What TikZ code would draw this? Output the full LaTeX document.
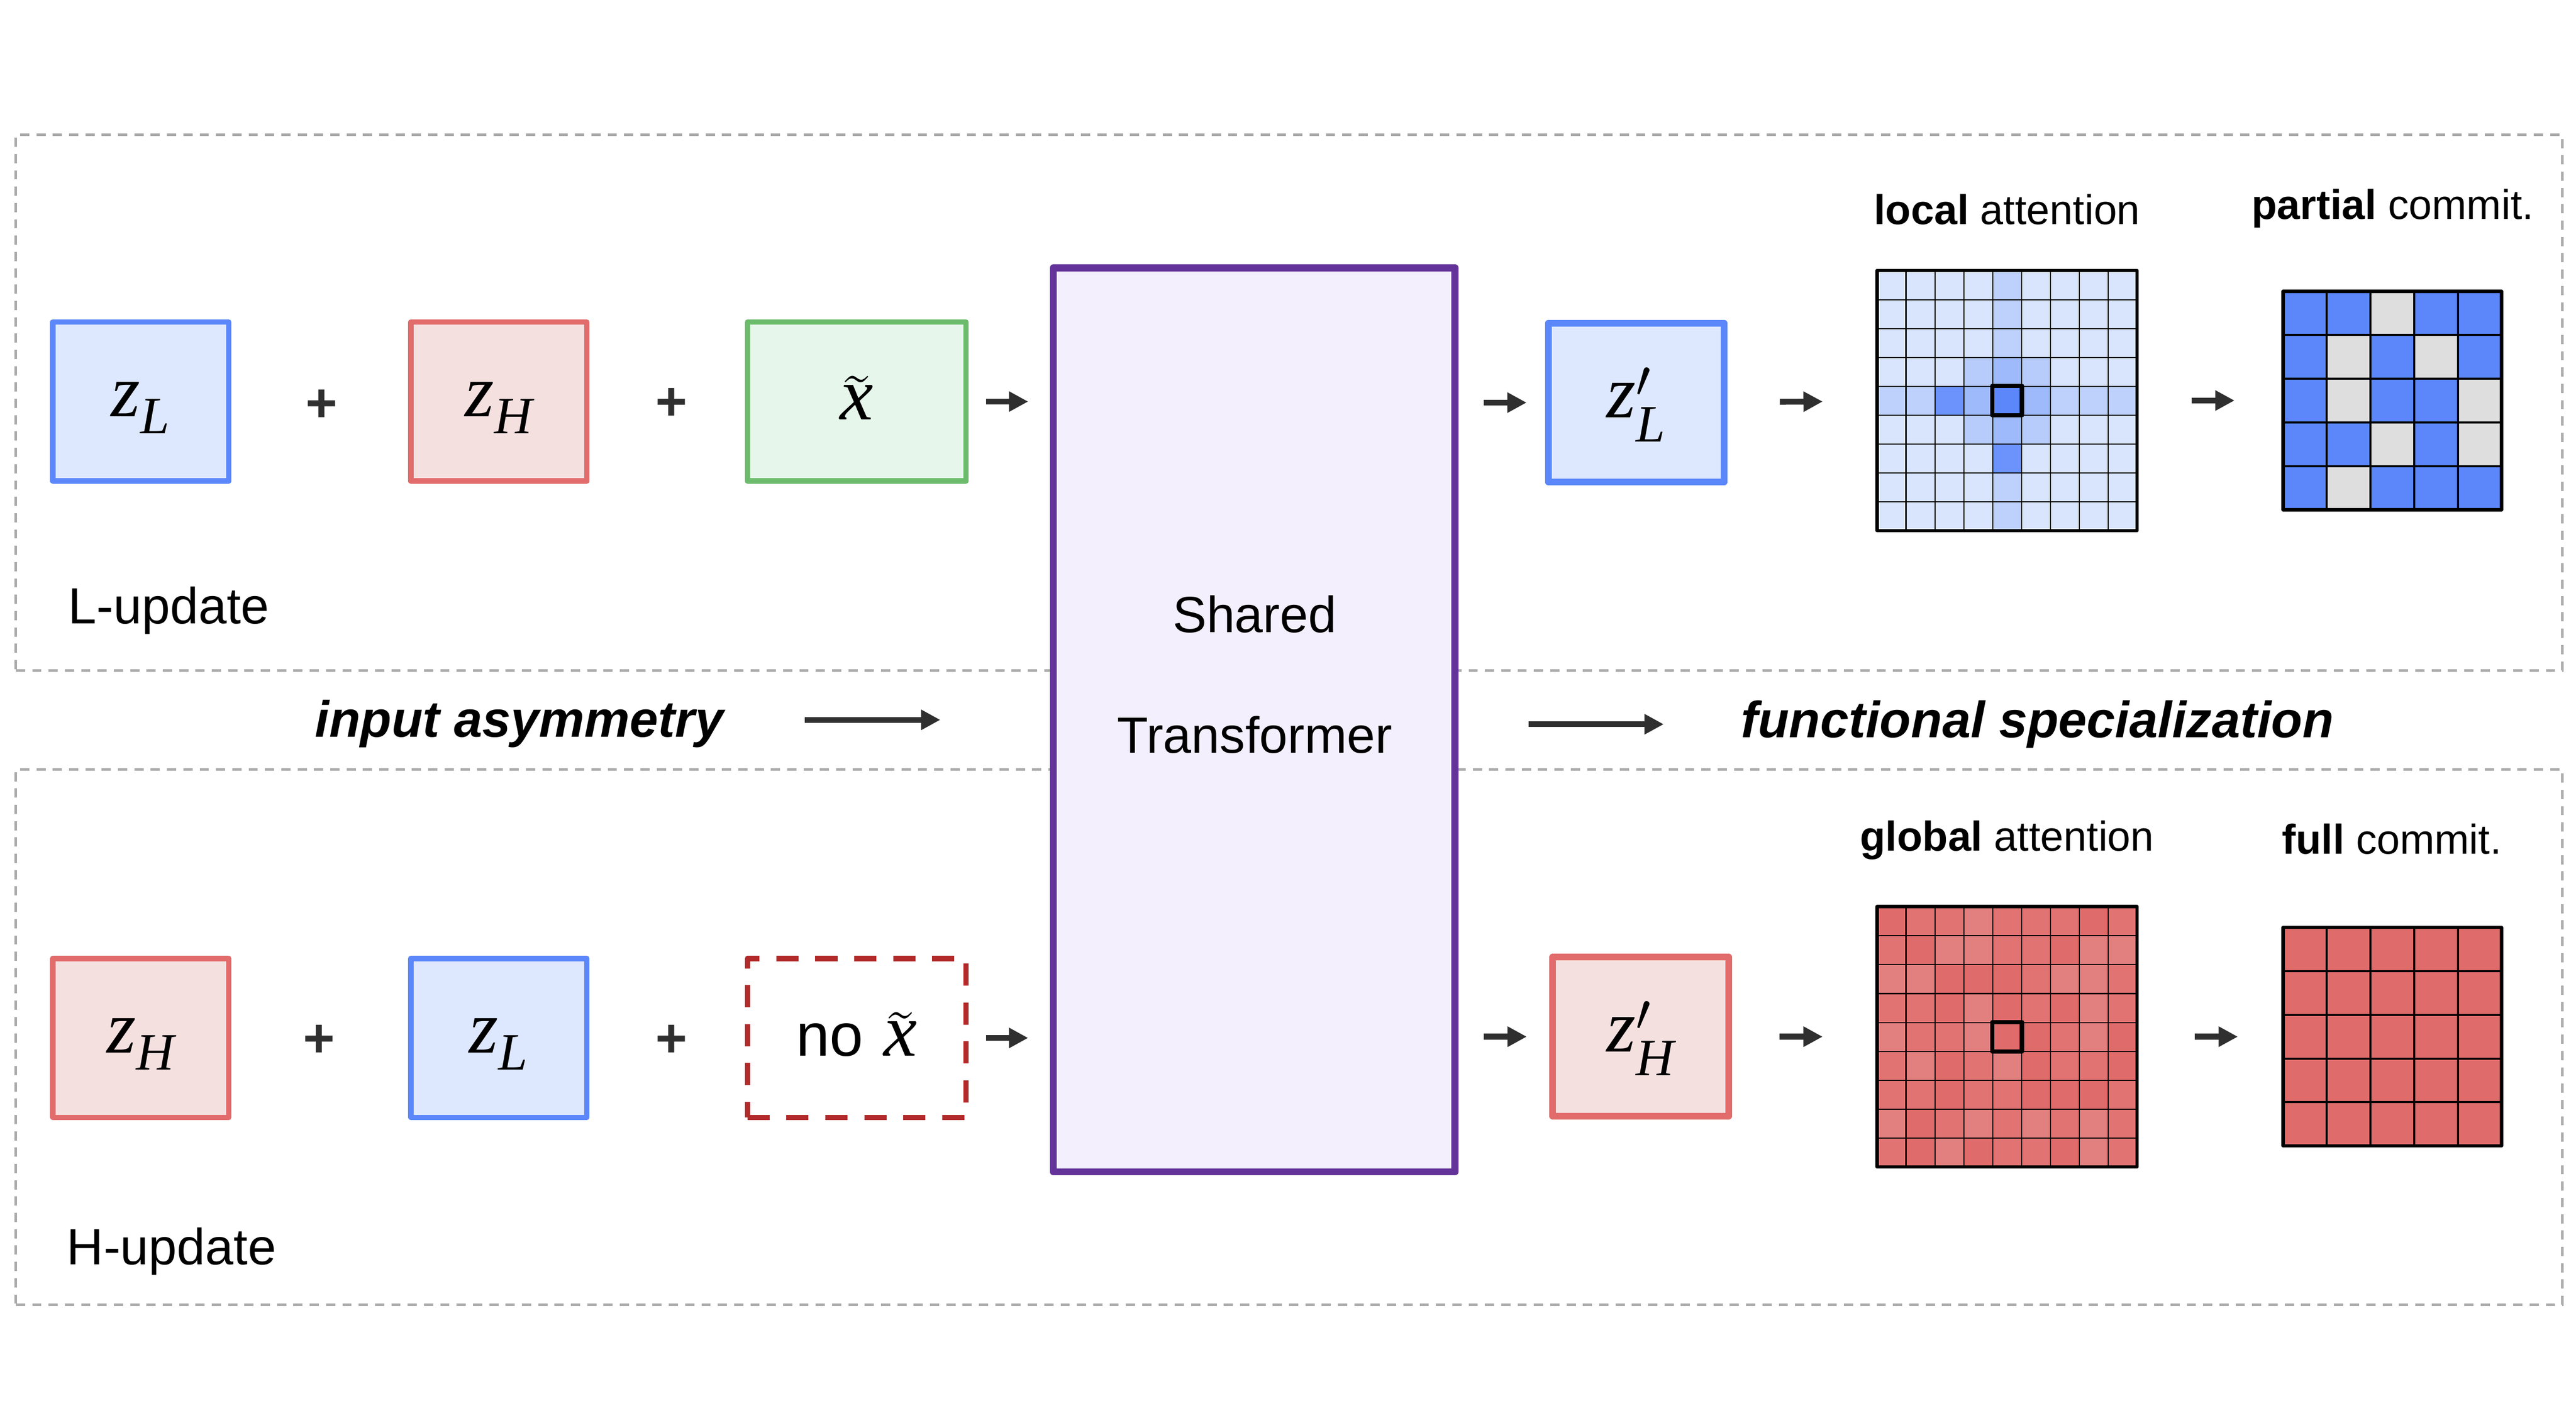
\documentclass[tikz,border=0pt]{standalone}
\usepackage{fix-cm}
\usepackage{fontspec}
\setmainfont{Liberation Sans}
\newfontfamily\mathserif{Liberation Serif}[NFSSFamily=lserif]
\DeclareMathAlphabet{\mvar}{TU}{lserif}{m}{it}
\usetikzlibrary{arrows.meta}

\definecolor{blueline}{HTML}{5B87FA}
\definecolor{bluefill}{HTML}{DDE7FE}
\definecolor{redline}{HTML}{E26B6B}
\definecolor{redfill}{HTML}{F5E0E0}
\definecolor{greenline}{HTML}{6CBB6C}
\definecolor{greenfill}{HTML}{E6F6EB}
\definecolor{noxline}{HTML}{B22A2A}
\definecolor{purpleline}{HTML}{633399}
\definecolor{purplefill}{HTML}{F3EFFD}
\definecolor{panelline}{HTML}{AAAAAA}
\definecolor{arrowgray}{HTML}{2F2F2F}
\definecolor{offgray}{HTML}{DEDEDE}
\definecolor{ba}{HTML}{D9E4FD}
\definecolor{bb}{HTML}{BDD1FC}
\definecolor{bc}{HTML}{B8CCFC}
\definecolor{bd}{HTML}{9EBAFB}
\definecolor{be}{HTML}{6B93FB}
\definecolor{bf}{HTML}{5B87FA}
\definecolor{rl}{HTML}{E27F7F}
\definecolor{rm}{HTML}{E17373}
\definecolor{rd}{HTML}{E06B6B}

\tikzset{
  panel/.style={draw=panelline,line width=0.06cm,dash pattern=on 0.22cm off 0.17cm,minimum width=60.84cm,minimum height=12.8cm,inner sep=0,outer sep=0},
  statebox/.style={line width=0.13cm,line join=round,minimum height=3.8cm,inner sep=0,outer sep=0,font=\fontsize{51}{60}\selectfont},
  lbox/.style={statebox,draw=blueline,fill=bluefill,minimum width=4.2cm},
  hbox/.style={statebox,draw=redline,fill=redfill,minimum width=4.2cm},
  gridframe/.style={draw=black,line width=0.08cm,line join=round,inner sep=0,outer sep=0},
  focus/.style={draw=black,line width=0.1cm,line join=round,inner sep=0,outer sep=0,minimum width=0.71cm,minimum height=0.7cm},
  flow/.style={-{Triangle[length=0.46cm,width=0.46cm]},draw=arrowgray,line width=0.14cm},
  plus/.style={inner sep=0,text=arrowgray,font=\fontsize{37}{44}\selectfont\bfseries},
  lbl/.style={inner sep=0,anchor=base west,font=\fontsize{34.6}{41}\selectfont},
  head/.style={inner sep=0,anchor=base,font=\fontsize{28.3}{34}\selectfont},
  theme/.style={inner sep=0,anchor=base,font=\fontsize{34.7}{42}\selectfont\bfseries\itshape}
}

% state symbols, set by hand a little lower than TeX would
\newcommand{\lowsub}[1]{\raisebox{-0.13cm}{$\scriptstyle\mvar{#1}$}}
\newcommand{\zstate}[1]{\raisebox{-0.36cm}[0pt][0pt]{$\mvar{z}_{\lowsub{#1}}$}}
\newcommand{\zprime}[1]{\raisebox{-0.36cm}[0pt][0pt]{$\mvar{z}^{\raisebox{-0.15cm}[\height][0pt]{$\scriptstyle\prime$}}_{\lowsub{#1}}$}}
\newcommand{\xstate}{\rlap{\raisebox{-0.18cm}{$\tilde{\phantom{\mvar{x}}}$}}$\mvar{x}$}

% #1 lower left, #2 cell size, #3 cells per side, #4 inner line width, #5 rows of colours
\newcommand{\cellgrid}[5]{
  \begin{scope}[shift={(#1)}]
    \foreach \rowlist [count=\r from 1] in {#5}
      \foreach \cellcol [count=\c from 0] in \rowlist
        \fill [\cellcol] (\c*#2,#3*#2-\r*#2) rectangle +(#2,#2);
    \foreach \k in {1,...,\numexpr#3-1\relax} {
      \draw [line width=#4] (\k*#2,0) -- (\k*#2,#3*#2);
      \draw [line width=#4] (0,\k*#2) -- (#3*#2,\k*#2);
    }
  \end{scope}
}

\begin{document}
\begin{tikzpicture}

\useasboundingbox (0,0) rectangle (61.55,34);

\node (lpanel) at (30.8,24.38) [panel] {};
\node (hpanel) at (30.8,9.22) [panel] {};

\node (shared) at (29.967,16.8) [draw=purpleline,fill=purplefill,line width=0.17cm,line join=round,minimum width=9.6cm,minimum height=21.6cm,inner sep=0,outer sep=0] {};
\node (sharedtop) at (29.98,18.89) [lbl,anchor=base] {Shared};
\node (sharedbot) at (29.98,16.01) [lbl,anchor=base] {Transformer};

% L-update row
\node (zl1) at (3.365,24.405) [lbox] {\zstate{L}};
\node (plus1) at (7.68,24.31) [plus] {+};
\node (zh1) at (11.92,24.405) [hbox] {\zstate{H}};
\node (plus2) at (16.05,24.34) [plus] {+};
\node (xt) at (20.47,24.405) [statebox,draw=greenline,fill=greenfill,minimum width=5.22cm] {\xstate};
\node (zlp) at (39.095,24.38) [lbox,line width=0.16cm] {\zprime{L}};
\node (lname) at (1.63,19.1) [lbl] {L-update};

% H-update row
\node (zh2) at (3.365,9.2) [hbox] {\zstate{H}};
\node (plus3) at (7.63,9.13) [plus] {+};
\node (zl2) at (11.92,9.2) [lbox] {\zstate{L}};
\node (plus4) at (16.05,9.13) [plus] {+};
\node (nox) at (20.47,9.2) [statebox,draw=noxline,dash pattern=on 0.53cm off 0.4cm,minimum width=5.22cm] {{\fontsize{41}{49}\selectfont no} \xstate};
\node (zhp) at (39.2,9.23) [hbox,line width=0.16cm] {\zprime{H}};
\node (hname) at (1.59,3.79) [lbl] {H-update};

% heat maps
\cellgrid{44.85,21.32}{0.69}{9}{0.025cm}{
  {ba,ba,ba,ba,bb,ba,ba,ba,ba},
  {ba,ba,ba,ba,bb,ba,ba,ba,ba},
  {ba,ba,ba,ba,bb,ba,ba,ba,ba},
  {ba,ba,ba,bc,bd,bc,ba,ba,ba},
  {bb,bb,be,bd,bf,bd,bb,bb,bb},
  {ba,ba,ba,bc,bd,bc,ba,ba,ba},
  {ba,ba,ba,ba,be,ba,ba,ba,ba},
  {ba,ba,ba,ba,bb,ba,ba,ba,ba},
  {ba,ba,ba,ba,bb,ba,ba,ba,ba}}
\node (lgrid) at (47.955,24.43) [gridframe,minimum width=6.21cm,minimum height=6.22cm] {};
\node (lfocus) at (47.955,24.43) [focus] {};

\cellgrid{54.55,21.82}{1.044}{5}{0.05cm}{
  {blueline,blueline,offgray,blueline,blueline},
  {blueline,offgray,blueline,offgray,blueline},
  {blueline,offgray,blueline,blueline,offgray},
  {blueline,blueline,offgray,blueline,offgray},
  {blueline,offgray,blueline,blueline,blueline}}
\node (pgrid) at (57.16,24.43) [gridframe,minimum width=5.22cm,minimum height=5.22cm] {};

\cellgrid{44.85,6.12}{0.69}{9}{0.025cm}{
  {rd,rm,rm,rl,rm,rm,rm,rd,rm},
  {rm,rd,rl,rl,rm,rm,rd,rl,rl},
  {rl,rl,rd,rd,rd,rm,rl,rl,rm},
  {rm,rm,rd,rl,rd,rm,rd,rl,rm},
  {rl,rm,rm,rl,rd,rd,rm,rl,rd},
  {rm,rl,rd,rm,rl,rd,rm,rm,rd},
  {rm,rm,rd,rm,rm,rd,rd,rd,rm},
  {rl,rd,rm,rl,rm,rl,rm,rl,rm},
  {rm,rd,rl,rd,rm,rm,rd,rl,rm}}
\node (ggrid) at (47.955,9.23) [gridframe,minimum width=6.21cm,minimum height=6.22cm] {};
\node (gfocus) at (47.955,9.23) [focus] {};

\cellgrid{54.55,6.62}{1.044}{5}{0.05cm}{
  {rd,rd,rd,rd,rd},
  {rd,rd,rd,rd,rd},
  {rd,rd,rd,rd,rd},
  {rd,rd,rd,rd,rd},
  {rd,rd,rd,rd,rd}}
\node (fgrid) at (57.16,9.23) [gridframe,minimum width=5.22cm,minimum height=5.22cm] {};

\node (lhead) at (47.955,28.64) [head] {\textbf{local} attention};
\node (phead) at (57.17,28.76) [head] {\textbf{partial} commit.};
\node (ghead) at (47.955,13.67) [head] {\textbf{global} attention};
\node (fhead) at (57.15,13.6) [head] {\textbf{full} commit.};

\node (asym) at (12.41,16.39) [theme] {input asymmetry};
\node (spec) at (48.68,16.38) [theme] {functional specialization};

\draw [flow,shorten <=0.48cm,shorten >=0.6cm] (xt.east) -- (xt.east -| shared.west);
\draw [flow,shorten <=0.48cm,shorten >=0.6cm] (nox.east) -- (nox.east -| shared.west);
\draw [flow,shorten <=0.68cm,shorten >=0.52cm] (zlp.west -| shared.east) -- (zlp.west);
\draw [flow,shorten <=0.68cm,shorten >=0.62cm] (zhp.west -| shared.east) -- (zhp.west);
\draw [flow,shorten <=1.33cm,shorten >=1.3cm] (zlp) -- (lgrid);
\draw [flow,shorten <=1.22cm,shorten >=1.3cm] (zhp) -- (ggrid);
\draw [flow,shorten <=1.3cm,shorten >=1.16cm] (lgrid) -- (pgrid);
\draw [flow,shorten <=1.38cm,shorten >=1.08cm] (ggrid) -- (fgrid);
\draw [flow,shorten <=1.93cm,shorten >=2.7cm] (asym.east |- shared.west) -- (shared.west);
\draw [flow,shorten <=1.76cm,shorten >=1.84cm] (shared.east |- spec.west) -- (spec.west);

\end{tikzpicture}
\end{document}
